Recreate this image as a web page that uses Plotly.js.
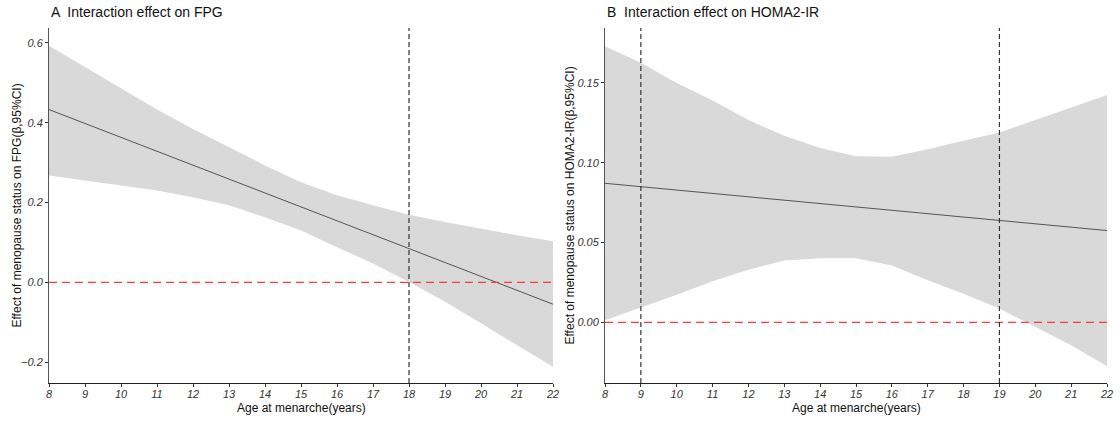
<!DOCTYPE html>
<html>
<head>
<meta charset="utf-8">
<script src="https://cdn.plot.ly/plotly-3.0.1.min.js"></script>
<style>html,body{margin:0;padding:0;background:#fff;}#chart{width:1120px;height:423px;}</style>
</head>
<body>
<div id="chart"></div>
<script>
// ---- Data ----
const ages = [8, 9, 10, 11, 12, 13, 14, 15, 16, 17, 18, 19, 20, 21, 22];

// Panel A: FPG
const fpgEst   = [0.433, 0.398, 0.363, 0.328, 0.293, 0.258, 0.224, 0.189, 0.154, 0.119, 0.084, 0.049, 0.014, -0.021, -0.055];
const fpgUpper = [0.593, 0.539, 0.486, 0.433, 0.384, 0.338, 0.293, 0.251, 0.218, 0.193, 0.169, 0.151, 0.134, 0.118, 0.103];
const fpgLower = [0.268, 0.255, 0.243, 0.230, 0.213, 0.193, 0.163, 0.130, 0.088, 0.047, 0.001, -0.049, -0.103, -0.158, -0.212];
const fpgRefX  = [18];

// Panel B: HOMA2-IR
const homaEst   = [0.0871, 0.0850, 0.0829, 0.0808, 0.0787, 0.0766, 0.0745, 0.0723, 0.0702, 0.0681, 0.0660, 0.0638, 0.0617, 0.0596, 0.0575];
const homaUpper = [0.173, 0.1627, 0.150, 0.139, 0.1267, 0.1169, 0.1092, 0.104, 0.1038, 0.1085, 0.1138, 0.119, 0.1267, 0.1346, 0.1425];
const homaLower = [0.0013, 0.0092, 0.0173, 0.0258, 0.0329, 0.0388, 0.0402, 0.0402, 0.0356, 0.0263, 0.0179, 0.0086, -0.003, -0.0144, -0.0275];
const homaRefX  = [9, 19];

const xTicks = [8, 9, 10, 11, 12, 13, 14, 15, 16, 17, 18, 19, 20, 21, 22];
const fpgTicks = [-0.2, 0.0, 0.2, 0.4, 0.6];
const homaTicks = [0.00, 0.05, 0.10, 0.15];

const titleA = "A  Interaction effect on FPG";
const titleB = "B  Interaction effect on HOMA2-IR";
const xTitle = "Age at menarche(years)";
const yTitleA = "Effect of menopause status on FPG(β,95%CI)";
const yTitleB = "Effect of menopause status on HOMA2-IR(β,95%CI)";

// ---- Styles ----
const bandColor = "#d9d9d9";
const lineColor = "#555555";
const font = "Liberation Sans, Arial, sans-serif";

function band(x, up, lo, est, xa, ya) {
  return [
    {x: x, y: up, xaxis: xa, yaxis: ya, type: "scatter", mode: "lines",
     line: {width: 0, color: bandColor}, hoverinfo: "skip", showlegend: false},
    {x: x, y: lo, xaxis: xa, yaxis: ya, type: "scatter", mode: "lines",
     line: {width: 0, color: bandColor}, fill: "tonexty", fillcolor: bandColor,
     hoverinfo: "skip", showlegend: false},
    {x: x, y: est, xaxis: xa, yaxis: ya, type: "scatter", mode: "lines",
     line: {width: 1, color: lineColor}, showlegend: false}
  ];
}

const traces = [].concat(
  band(ages, fpgUpper, fpgLower, fpgEst, "x", "y"),
  band(ages, homaUpper, homaLower, homaEst, "x2", "y2")
);

const tickFont = {family: font, size: 11, color: "#333", style: "italic"};
function xAxis(domain, anchor) {
  return {domain: domain, anchor: anchor, range: [8, 22], tickvals: xTicks,
    showgrid: false, zeroline: false, showline: true, linecolor: "#222", linewidth: 1,
    ticks: "outside", ticklen: 3, tickcolor: "#333", tickfont: tickFont,
    ticklabelstandoff: -2, fixedrange: true};
}
function yAxis(range, ticks, fmt, anchor) {
  return {domain: [0, 1], anchor: anchor, range: range, tickvals: ticks, tickformat: fmt,
    showgrid: false, zeroline: false, showline: true, linecolor: "#555", linewidth: 1,
    ticks: "outside", ticklen: 3, tickcolor: "#333", tickfont: tickFont, fixedrange: true};
}

const shapes = [];
function hline(xa, ya, yv) {
  shapes.push({type: "line", xref: xa + " domain", yref: ya, x0: 0, x1: 1, y0: yv, y1: yv,
    line: {color: "#ff3b3b", width: 1.2, dash: "8px,5px"}});
}
function vline(xa, ya, xv) {
  shapes.push({type: "line", xref: xa, yref: ya + " domain", x0: xv, x1: xv, y0: 0, y1: 1,
    line: {color: "#333", width: 1.2, dash: "5px,3px"}});
}
hline("x", "y", 0);
hline("x2", "y2", 0);
fpgRefX.forEach(v => vline("x", "y", v));
homaRefX.forEach(v => vline("x2", "y2", v));

const dA = [49/1120, 553/1120];
const dB = [605/1120, 1107/1120];

const annotations = [
  {text: titleA, xref: "paper", yref: "paper", x: dA[0], y: 1, xanchor: "left", yanchor: "bottom",
   yshift: 6, showarrow: false, font: {family: font, size: 14, color: "#111"}},
  {text: titleB, xref: "paper", yref: "paper", x: dB[0], y: 1, xanchor: "left", yanchor: "bottom",
   yshift: 6, showarrow: false, font: {family: font, size: 14, color: "#111"}},
  {text: xTitle, xref: "paper", yref: "paper", x: (dA[0] + dA[1]) / 2, y: 0, xanchor: "center", yanchor: "top",
   yshift: -16, showarrow: false, font: {family: font, size: 12, color: "#111"}},
  {text: xTitle, xref: "paper", yref: "paper", x: (dB[0] + dB[1]) / 2, y: 0, xanchor: "center", yanchor: "top",
   yshift: -16, showarrow: false, font: {family: font, size: 12, color: "#111"}},
  {text: yTitleA, xref: "paper", yref: "paper", x: dA[0], y: 0.5, xanchor: "center", yanchor: "middle",
   xshift: -33, textangle: -90, showarrow: false, font: {family: font, size: 12, color: "#111"}},
  {text: yTitleB, xref: "paper", yref: "paper", x: dB[0], y: 0.5, xanchor: "center", yanchor: "middle",
   xshift: -36, textangle: -90, showarrow: false, font: {family: font, size: 12, color: "#111"}}
];

const layout = {
  width: 1120, height: 423,
  margin: {l: 0, r: 0, t: 28, b: 40},
  paper_bgcolor: "#fff", plot_bgcolor: "#fff",
  showlegend: false,
  xaxis: xAxis(dA, "y"),
  yaxis: yAxis([-0.2525, 0.6375], fpgTicks, ".1f", "x"),
  xaxis2: xAxis(dB, "y2"),
  yaxis2: yAxis([-0.038, 0.1844], homaTicks, ".2f", "x2"),
  shapes: shapes,
  annotations: annotations
};

Plotly.newPlot("chart", traces, layout, {displayModeBar: false, staticPlot: true});
</script>
</body>
</html>
